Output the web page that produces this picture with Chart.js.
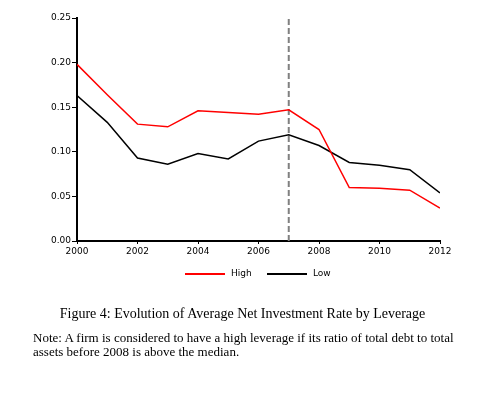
<!DOCTYPE html>
<html>
<head>
<meta charset="utf-8">
<script src="https://cdn.jsdelivr.net/npm/chart.js@4"></script>
<style>
html,body{margin:0;padding:0;background:#fff;}
#wrap{position:relative;width:485px;height:399px;overflow:hidden;}
#c{position:absolute;left:0;top:0;}
.leg{position:absolute;top:268px;font-family:"DejaVu Sans",sans-serif;font-size:9px;color:#000;}
.legline{position:absolute;top:273px;height:2px;width:40px;}
.cap{position:absolute;font-family:"Liberation Serif","DejaVu Serif",serif;color:#000;}
</style>
</head>
<body>
<div id="wrap">
<canvas id="c" width="485" height="399"></canvas>
<div class="legline" style="left:185px;background:#ff0000;"></div>
<div class="leg" style="left:231px;">High</div>
<div class="legline" style="left:267px;background:#000;"></div>
<div class="leg" style="left:313px;">Low</div>
<div class="cap" style="left:0;width:485px;text-align:center;top:306px;font-size:14px;">Figure 4: Evolution of Average Net Investment Rate by Leverage</div>
<div class="cap" style="left:33px;width:430px;top:331px;font-size:13px;line-height:13.5px;">Note: A firm is considered to have a high leverage if its ratio of total debt to total<br>assets before 2008 is above the median.</div>
</div>
<script>
const years = [2000,2001,2002,2003,2004,2005,2006,2007,2008,2009,2010,2011,2012];
const highLeverage = [0.198,0.164,0.131,0.128,0.146,0.144,0.142,0.147,0.125,0.060,0.059,0.057,0.037];
const lowLeverage  = [0.163,0.133,0.093,0.086,0.098,0.092,0.112,0.119,0.107,0.088,0.085,0.080,0.054];
const breakYear = 2007;
const yTicks = [0,0.05,0.10,0.15,0.20,0.25];
const xTicks = [2000,2002,2004,2006,2008,2010,2012];

const pts = arr => years.map((y,i)=>({x:y,y:arr[i]}));

new Chart(document.getElementById('c'), {
  type: 'line',
  data: {
    datasets: [
      {label:'High', data: pts(highLeverage), borderColor:'#ff0000', borderWidth:1.5, pointRadius:0, tension:0, fill:false},
      {label:'Low', data: pts(lowLeverage), borderColor:'#000000', borderWidth:1.5, pointRadius:0, tension:0, fill:false},
      {label:'break', data:[{x:breakYear,y:0},{x:breakYear,y:0.25}], borderColor:'#808080', borderWidth:2, borderDash:[6,3], pointRadius:0, fill:false}
    ]
  },
  options: {
    responsive:false,
    animation:false,
    layout:{padding:{top:18,right:45,bottom:0,left:0}},
    plugins:{legend:{display:false}, tooltip:{enabled:false}},
    scales:{
      x:{
        type:'linear', min:2000, max:2012,
        afterBuildTicks: s => { s.ticks = xTicks.map(v=>({value:v})); },
        afterFit: s => { s.height = 399-241; },
        grid:{drawOnChartArea:false, drawTicks:true, tickLength:3, color:'#000', tickWidth:1},
        border:{display:true, color:'#000', width:2},
        ticks:{color:'#000', font:{family:'DejaVu Sans', size:9}, padding:2, maxRotation:0,
               callback: v => String(v)}
      },
      y:{
        type:'linear', min:0, max:0.25,
        afterBuildTicks: s => { s.ticks = yTicks.map(v=>({value:v})); },
        afterFit: s => { s.width = 77; },
        grid:{drawOnChartArea:false, drawTicks:true, tickLength:5, color:'#000', tickWidth:1},
        border:{display:true, color:'#000', width:2},
        ticks:{color:'#000', font:{family:'DejaVu Sans', size:9}, padding:1,
               callback: v => v.toFixed(2)}
      }
    }
  }
});
</script>
</body>
</html>
